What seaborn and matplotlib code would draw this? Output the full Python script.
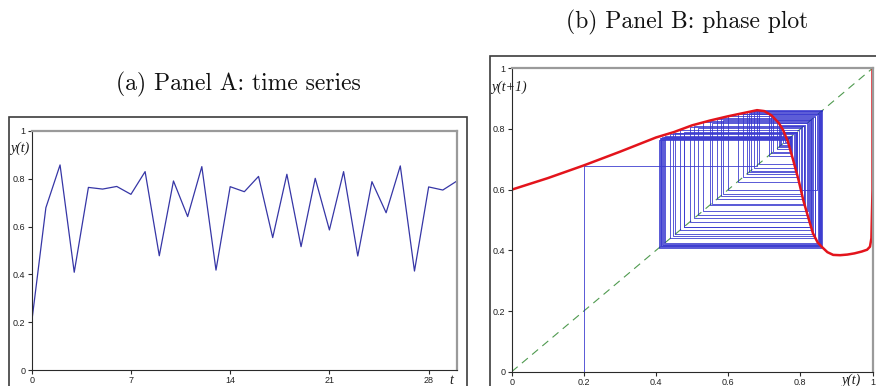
import numpy as np
import pandas as pd
import matplotlib
matplotlib.use("Agg")
import matplotlib.pyplot as plt
import seaborn as sns
from matplotlib.patches import Rectangle

# panel A: time series y(t), t = 0..30
t_steps = list(range(31))
y_series = [0.200, 0.679, 0.858, 0.409, 0.764, 0.757, 0.768, 0.735, 0.830, 0.478,
            0.791, 0.642, 0.851, 0.418, 0.767, 0.746, 0.810, 0.554, 0.819, 0.516,
            0.802, 0.586, 0.830, 0.477, 0.788, 0.658, 0.854, 0.414, 0.766, 0.753,
            0.791]

# panel B: the map y(t) -> y(t+1)
map_x = [0.00, 0.10, 0.20, 0.30, 0.40, 0.45, 0.50, 0.55, 0.60, 0.64, 0.68,
         0.70, 0.72, 0.74, 0.752, 0.765, 0.78, 0.795, 0.808, 0.822, 0.835,
         0.848, 0.859, 0.875, 0.891, 0.91, 0.93, 0.95, 0.97, 0.985, 0.993,
         0.997, 1.0, 1.0]
map_y = [0.600, 0.638, 0.680, 0.725, 0.772, 0.790, 0.812, 0.828, 0.842, 0.852,
         0.862, 0.859, 0.845, 0.820, 0.797, 0.760, 0.698, 0.632, 0.566, 0.508,
         0.456, 0.426, 0.412, 0.394, 0.385, 0.384, 0.386, 0.390, 0.396, 0.402,
         0.412, 0.440, 0.600, 1.000]

# later iterations drawn in the cobweb (after the 31 values of panel A)
y_later = [0.651, 0.855, 0.417, 0.774, 0.724, 0.841, 0.440, 0.783, 0.685, 0.861,
           0.411, 0.770, 0.745, 0.812, 0.550, 0.826, 0.493, 0.805, 0.580, 0.836,
           0.453, 0.788, 0.663, 0.858, 0.413, 0.771, 0.740, 0.820, 0.530, 0.823,
           0.505, 0.810, 0.568, 0.832, 0.466, 0.796, 0.626, 0.849, 0.425, 0.777,
           0.712, 0.851, 0.421, 0.775, 0.720, 0.845, 0.600, 0.842, 0.447, 0.786,
           0.672, 0.860]

tick_vals = [0, 0.2, 0.4, 0.6, 0.8, 1]
tick_text = ["0", "0.2", "0.4", "0.6", "0.8", "1"]
t_ticks = [0, 7, 14, 21, 28]

sns.set_style("white")
plt.rcParams["font.family"] = ["Liberation Sans", "DejaVu Sans"]

W, H = 876, 386
fig = plt.figure(figsize=(W / 100, H / 100), dpi=100)
fig.patch.set_facecolor("white")


def px(x0, y0, x1, y1):
    # pixel box (top-left origin) -> figure fraction rect
    return [x0 / W, 1 - y1 / H, (x1 - x0) / W, (y1 - y0) / H]


def style_axes(ax):
    for s in ["left", "bottom"]:
        ax.spines[s].set_color("#2a2a2a")
        ax.spines[s].set_linewidth(0.8)
    for s in ["top", "right"]:
        ax.spines[s].set_color("#9a9a9a")
        ax.spines[s].set_linewidth(1.6)
    ax.tick_params(axis="both", direction="out", length=3, width=0.8,
                   color="#2a2a2a", labelsize=6.5, pad=1.5,
                   labelcolor="#222222", left=True, bottom=True)
    ax.set_xlabel("")
    ax.set_ylabel("")


# outer window frames
fig.add_artist(Rectangle((9 / W, -0.05), (467 - 9) / W, 1 - 117 / H + 0.05,
                         transform=fig.transFigure, fill=False,
                         ec="#3c3c3c", lw=1.2))
fig.add_artist(Rectangle((490 / W, -0.05), 0.6, 1 - 55.7 / H + 0.05,
                         transform=fig.transFigure, fill=False,
                         ec="#3c3c3c", lw=1.2))

# ---- panel A ----
axA = fig.add_axes(px(31.7, 131, 457, 370))
dfA = pd.DataFrame({"t": t_steps, "y": y_series})
sns.lineplot(data=dfA, x="t", y="y", ax=axA, color="#3636a6", lw=0.9)
axA.set_xlim(0, 30)
axA.set_ylim(0, 1)
axA.set_xticks(t_ticks)
axA.set_xticklabels([str(v) for v in t_ticks])
axA.set_yticks(tick_vals)
axA.set_yticklabels(tick_text)
style_axes(axA)

# ---- panel B ----
axB = fig.add_axes(px(511.7, 68.3, 872.5, 371.7))
axB.plot([0, 1], [0, 1], color="#4f9a4f", lw=0.8, dashes=(7, 5))

# cobweb path: (y0, 0) -> (y0, y1) -> (y1, y1) -> (y1, y2) -> ...
orbit = np.array(y_series + y_later)
cx = np.repeat(orbit, 2)[:-1]
cy = np.concatenate([[0.0], np.repeat(orbit[1:], 2)])
dfC = pd.DataFrame({"x": cx, "y": cy})
sns.lineplot(data=dfC, x="x", y="y", ax=axB, sort=False, estimator=None,
             color="#1c1cc8", lw=0.6, alpha=0.85)

dfM = pd.DataFrame({"x": map_x, "y": map_y})
sns.lineplot(data=dfM, x="x", y="y", ax=axB, sort=False, estimator=None,
             color="#e3141c", lw=1.8)

axB.set_xlim(0, 1)
axB.set_ylim(0, 1)
axB.set_xticks(tick_vals)
axB.set_xticklabels(tick_text)
axB.set_yticks(tick_vals)
axB.set_yticklabels(tick_text)
style_axes(axB)

# axis labels as in the source screenshots
lab = dict(family=["Liberation Serif", "DejaVu Serif"], style="italic",
           fontsize=10, color="#1a1a1a")
fig.text(10 / W, 1 - 148 / H, "y(t)", ha="left", va="center", **lab)
fig.text(451 / W, 1 - 380 / H, "t", ha="center", va="center", **lab)
fig.text(491 / W, 1 - 87 / H, "y(t+1)", ha="left", va="center", **lab)
fig.text(851 / W, 1 - 380 / H, "y(t)", ha="center", va="center", **lab)

# panel titles
ttl = dict(family=["cmr10", "DejaVu Serif"], fontsize=17, color="#111111")
fig.text(238.5 / W, 1 - 84 / H, "(a) Panel A: time series", ha="center",
         va="center", **ttl)
fig.text(687 / W, 1 - 22 / H, "(b) Panel B: phase plot", ha="center",
         va="center", **ttl)

fig.savefig("out.png", dpi=100, facecolor="white")
